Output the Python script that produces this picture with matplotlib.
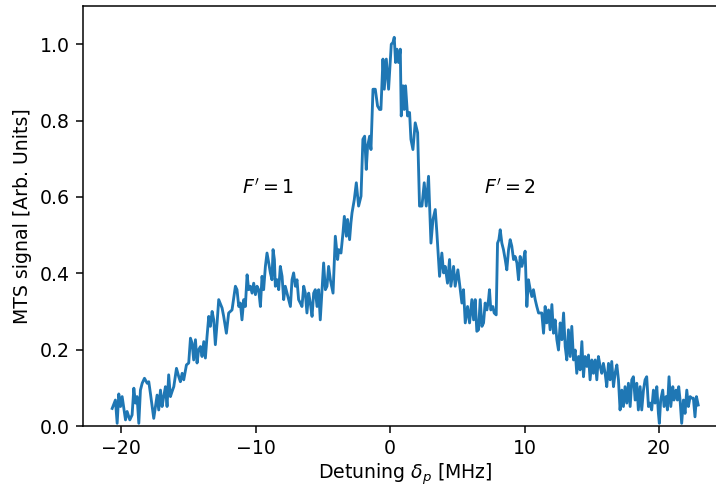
import numpy as np
import matplotlib
matplotlib.use("Agg")
import matplotlib.pyplot as plt

# detuning [MHz] and MTS signal
det_a = [-20.66, -20.42, -20.29, -20.17, -20.04, -19.92, -19.67, -19.55, -19.35, -19.18,
         -19.05, -18.93, -18.81, -18.68, -18.56, -18.43, -18.26, -18.06, -17.94, -17.82,
         -17.69, -17.57, -17.44, -17.32, -17.2, -17.07, -16.95, -16.83, -16.7, -16.58,
         -16.46, -16.33, -16.21, -16.08, -15.88, -15.71, -15.59, -15.46, -15.34, -15.14,
         -14.97, -14.84, -14.72, -14.6, -14.47, -14.35, -14.23, -14.1, -13.98, -13.85,
         -13.73, -13.61, -13.48, -13.36, -13.23, -13.11, -12.99, -12.86, -12.74]
sig_a = [0.046, 0.068, 0.007, 0.084, 0.051, 0.077, 0.016, 0.038, 0.016, 0.029,
         0.099, 0.06, 0.077, 0.007, 0.094, 0.112, 0.125, 0.112, 0.116, 0.086,
         0.051, 0.02, 0.051, 0.081, 0.042, 0.094, 0.051, 0.077, 0.103, 0.051,
         0.134, 0.077, 0.09, 0.103, 0.151, 0.129, 0.116, 0.138, 0.121, 0.16,
         0.165, 0.23, 0.217, 0.173, 0.226, 0.165, 0.2, 0.208, 0.182, 0.221,
         0.178, 0.234, 0.287, 0.261, 0.3, 0.278, 0.213, 0.27, 0.331]

det_b = [-12.49, -12.37, -12.17, -12.0, -11.75, -11.5, -11.38, -11.25, -11.13, -11.01,
         -10.88, -10.76, -10.63, -10.51, -10.39, -10.26, -10.14, -10.01, -9.89, -9.77,
         -9.64, -9.52, -9.4, -9.27, -9.15, -9.02, -8.9, -8.78, -8.7, -8.6,
         -8.53, -8.4, -8.28, -8.16, -8.03, -7.91, -7.79, -7.66, -7.54, -7.41,
         -7.29, -7.17, -7.04, -6.92, -6.8, -6.67, -6.55, -6.42, -6.3, -6.18,
         -6.05, -5.93, -5.8, -5.68, -5.56, -5.43, -5.31, -5.19, -5.06, -4.94,
         -4.81, -4.69, -4.57, -4.44]
sig_b = [0.309, 0.287, 0.243, 0.296, 0.304, 0.366, 0.357, 0.313, 0.322, 0.278,
         0.331, 0.313, 0.396, 0.357, 0.366, 0.348, 0.374, 0.344, 0.366, 0.357,
         0.313, 0.392, 0.357, 0.418, 0.453, 0.427, 0.401, 0.383, 0.462, 0.436,
         0.366, 0.383, 0.357, 0.418, 0.392, 0.331, 0.366, 0.348, 0.331, 0.313,
         0.383, 0.401, 0.366, 0.383, 0.331, 0.322, 0.313, 0.366, 0.348, 0.296,
         0.348, 0.322, 0.287, 0.348, 0.357, 0.313, 0.357, 0.278, 0.357, 0.427,
         0.357, 0.366, 0.418, 0.383]

det_c = [-4.24, -4.07, -3.9, -3.82, -3.65, -3.5, -3.4, -3.25, -3.16, -3.01,
         -2.91, -2.83, -2.66, -2.51, -2.34, -2.16, -2.02, -1.89, -1.77, -1.67,
         -1.52, -1.42, -1.27, -1.1, -0.93, -0.78, -0.68, -0.53, -0.43, -0.28,
         -0.11, 0.01, 0.09, 0.21, 0.31, 0.41, 0.51, 0.63, 0.76, 0.83,
         0.96, 1.05, 1.15, 1.3, 1.45, 1.55, 1.7, 1.87, 2.05, 2.19,
         2.37, 2.54, 2.69, 2.86, 3.04, 3.19, 3.36, 3.48, 3.68, 3.85,
         3.98, 4.1, 4.27, 4.42, 4.52, 4.72, 4.84, 5.04]
sig_c = [0.348, 0.497, 0.436, 0.462, 0.453, 0.506, 0.549, 0.497, 0.541, 0.488,
         0.532, 0.558, 0.593, 0.637, 0.576, 0.602, 0.751, 0.759, 0.672, 0.733,
         0.759, 0.724, 0.882, 0.882, 0.838, 0.829, 0.829, 0.961, 0.882, 0.961,
         0.882, 0.952, 1.0, 1.004, 1.018, 0.952, 0.987, 0.952, 0.987, 0.812,
         0.891, 0.829, 0.891, 0.812, 0.821, 0.751, 0.724, 0.794, 0.768, 0.576,
         0.576, 0.637, 0.576, 0.654, 0.479, 0.541, 0.567, 0.506, 0.392, 0.453,
         0.401, 0.418, 0.374, 0.436, 0.366, 0.418, 0.366, 0.409]

det_d = [5.19, 5.34, 5.46, 5.59, 5.76, 5.91, 6.08, 6.21, 6.33, 6.45,
         6.58, 6.7, 6.83, 6.95, 7.07, 7.2, 7.32, 7.39, 7.49, 7.64,
         7.74, 7.89, 7.99, 8.09, 8.19, 8.31, 8.43, 8.56, 8.68, 8.81,
         8.93, 9.05, 9.18, 9.3, 9.43, 9.55, 9.67, 9.8, 9.92, 10.04,
         10.17, 10.29, 10.42, 10.54, 10.66, 10.79, 10.91, 11.04]
sig_d = [0.366, 0.322, 0.357, 0.27, 0.313, 0.27, 0.331, 0.278, 0.331, 0.248,
         0.252, 0.331, 0.261, 0.27, 0.322, 0.304, 0.331, 0.357, 0.304, 0.313,
         0.296, 0.291, 0.479, 0.488, 0.514, 0.479, 0.462, 0.436, 0.409, 0.462,
         0.488, 0.471, 0.436, 0.444, 0.427, 0.383, 0.444, 0.418, 0.436, 0.458,
         0.313, 0.383, 0.357, 0.339, 0.357, 0.331, 0.313, 0.296]

det_e = [11.28, 11.41, 11.53, 11.65, 11.78, 11.9, 12.03, 12.15, 12.27, 12.4,
         12.52, 12.65, 12.77, 12.9, 13.02, 13.14, 13.26, 13.39, 13.51, 13.64,
         13.76, 13.88, 14.01, 14.13, 14.26, 14.38, 14.5, 14.63, 14.75, 14.87,
         15.0, 15.12, 15.25, 15.37, 15.49, 15.62, 15.74, 15.86, 15.99, 16.11,
         16.24, 16.36, 16.48, 16.61, 16.73, 16.86, 16.98, 17.1, 17.23, 17.35,
         17.47, 17.6, 17.72, 17.85, 17.97, 18.09, 18.22, 18.34, 18.46, 18.59,
         18.71, 18.84, 18.96, 19.08, 19.21, 19.33, 19.45, 19.58, 19.7, 19.83,
         19.95, 20.02, 20.12, 20.27, 20.37, 20.52, 20.62, 20.74, 20.87, 21.02,
         21.11, 21.26, 21.36, 21.46, 21.56, 21.68, 21.81, 21.93, 22.06, 22.18,
         22.31, 22.43, 22.55, 22.67, 22.78, 22.91]
sig_e = [0.296, 0.243, 0.313, 0.27, 0.304, 0.252, 0.318, 0.243, 0.278, 0.226,
         0.199, 0.27, 0.226, 0.296, 0.208, 0.173, 0.252, 0.182, 0.261, 0.173,
         0.199, 0.138, 0.182, 0.147, 0.221, 0.129, 0.182, 0.156, 0.186, 0.121,
         0.173, 0.138, 0.173, 0.121, 0.182, 0.156, 0.138, 0.164, 0.138, 0.103,
         0.164, 0.121, 0.169, 0.103, 0.138, 0.16, 0.121, 0.042, 0.094, 0.051,
         0.103, 0.06, 0.112, 0.051, 0.121, 0.129, 0.068, 0.112, 0.042, 0.103,
         0.042, 0.094, 0.121, 0.129, 0.051, 0.06, 0.042, 0.094, 0.06, 0.103,
         0.033, 0.007, 0.068, 0.094, 0.051, 0.077, 0.042, 0.129, 0.051, 0.103,
         0.068, 0.094, 0.068, 0.103, 0.068, 0.007, 0.068, 0.033, 0.094, 0.051,
         0.077, 0.073, 0.073, 0.024, 0.077, 0.055]

det = np.array(det_a + det_b + det_c + det_d + det_e)
sig = np.array(sig_a + sig_b + sig_c + sig_d + sig_e)

DPI = 136
fig = plt.figure(figsize=(716/DPI, 487/DPI), dpi=DPI)
# the saved picture cuts the right edge of the axes off
ax = fig.add_axes([83/716, 61/487, 644/716, 420/487])
ax.plot(det, sig, color='#1f77b4')
ax.set_xlim(-22.83, 25.05)
ax.set_ylim(0, 1.1)
ax.set_xticks([-20, -10, 0, 10, 20])
ax.set_yticks([0.0, 0.2, 0.4, 0.6, 0.8, 1.0])
ax.text(-9.05, 0.625, r"$F'=1$", ha='center', va='center')
ax.text(8.93, 0.625, r"$F'=2$", ha='center', va='center')
ax.set_xlabel(r"Detuning $\delta_p$ [MHz]", labelpad=1.5)
ax.set_ylabel("MTS signal [Arb. Units]")

fig.savefig("out.png", dpi=DPI)
